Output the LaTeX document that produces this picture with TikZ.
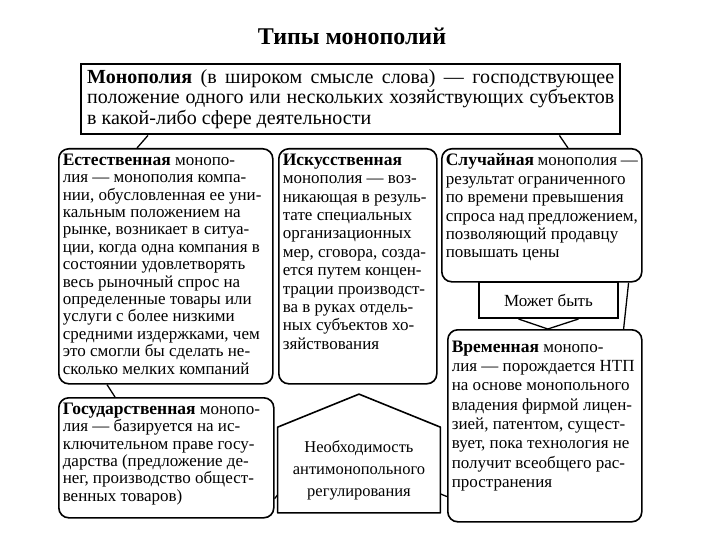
\documentclass[tikz,border=0pt]{standalone}
\usepackage{fontspec}
\setmainfont{Liberation Serif}
\usetikzlibrary{calc,positioning}
\tikzset{every picture/.style={line width=0.75pt}}
\tikzset{
  rbox/.style={draw, line width=1.6pt, rounded corners=10pt, anchor=north west,
    inner xsep=4pt, inner ysep=5pt, font=\fontsize{17}{17.4}\selectfont},
  sbox/.style={draw, line width=2pt, anchor=north west, inner sep=0pt},
  link/.style={line width=1.3pt},
}
\newcommand{\boxtext}[3]{\parbox[c][#2pt][t]{#1pt}{\tolerance=10000\hyphenpenalty=10000 #3}}
\newcommand{\term}[1]{{\bfseries\fontsize{17.5}{17.4}\selectfont #1}}

\begin{document}
\begin{tikzpicture}[x=1pt, y=-1pt]
    \useasboundingbox (0,0) rectangle (720,540);

    % заголовок
    \node[font=\fontsize{24}{28}\selectfont\bfseries] (title) at (352,36) {Типы монополий};

    % общее определение
    \node[sbox, line width=2.4pt, inner xsep=6pt, inner ysep=5pt, font=\fontsize{20}{20.5}\selectfont] (mono) at (80,63)
        {\boxtext{527}{60}{\textbf{Монополия} (в широком смысле слова) — господствующее\linebreak
        положение одного или нескольких хозяйствующих субъектов\linebreak
        в какой-либо сфере деятельности}};

    % три вида монополий
    \node[rbox] (nat) at (58,148)
        {\boxtext{206}{225}{\term{Естественная} монопо-\\
        лия — монополия компа-\\
        нии, обусловленная ее уни-\\
        кальным положением на\\
        рынке, возникает в ситуа-\\
        ции, когда одна компания в\\
        состоянии удовлетворять\\
        весь рыночный спрос на\\
        определенные товары или\\
        услуги с более низкими\\
        средними издержками, чем\\
        это смогли бы сделать не-\\
        сколько мелких компаний}};
    \node[rbox, font=\fontsize{17}{18.4}\selectfont] (art) at (278,148)
        {\boxtext{150}{225}{\term{Искусственная}\\
        монополия — воз-\\
        никающая в резуль-\\
        тате специальных\\
        организационных\\
        мер, сговора, созда-\\
        ется путем концен-\\
        трации производст-\\
        ва в руках отдель-\\
        ных субъектов хо-\\
        зяйствования}};
    \node[rbox, font=\fontsize{17}{18.4}\selectfont] (rand) at (441,148)
        {\boxtext{192}{123}{\term{Случайная} монополия —\\
        результат ограниченного\\
        по времени превышения\\
        спроса над предложением,\\
        позволяющий продавцу\\
        повышать цены}};

    % может быть
    \node[sbox, minimum width=139pt, minimum height=36pt, font=\fontsize{17}{18}\selectfont] (may) at (478,281) {Может быть};

    \node[rbox, font=\fontsize{17}{19.3}\selectfont] (temp) at (447,329)
        {\boxtext{186}{182}{\vspace*{6pt}\term{Временная} монопо-\\
        лия — порождается НТП\\
        на основе монопольного\\
        владения фирмой лицен-\\
        зией, патентом, сущест-\\
        вует, пока технология не\\
        получит всеобщего рас-\\
        пространения}};
    \node[rbox] (state) at (58,397)
        {\boxtext{207}{110}{\term{Государственная} монопо-\\
        лия — базируется на ис-\\
        ключительном праве госу-\\
        дарства (предложение де-\\
        нег, производство общест-\\
        венных товаров)}};

    % регулирование
    \node[minimum width=162pt, minimum height=85pt, align=center,
          font=\fontsize{16.5}{22}\selectfont] (need) at (359,470)
        {Необходимость\\ антимонопольного\\ регулирования};
    \draw[line width=1.6pt, line join=round] (need.south west) -- (need.north west)
        -- ($(need.north)+(0,-33)$) -- (need.north east) -- (need.south east) -- cycle;

    % связи
    \draw[link] ($(mono.south west)+(68,0)$) -- ($(nat.north west)+(79,0)$);
    \draw[link] ($(mono.south east)+(-62,0)$) -- ($(rand.north west)+(127,0)$);
    \draw[link] ($(nat.south west)+(49,0)$) -- ($(state.north west)+(57,0)$);
    \draw[link] ($(rand.south east)+(-14,0)$) -- ($(temp.north east)+(-19,0)$);
    \draw[link] ($(may.south)+(-30,0)$) -- ($(temp.north)+(3,0)$) -- ($(may.south)+(30,0)$);
    \draw[link] ($(state.south east)+(0,-20)$) -- ($(need.south west)+(0,-18)$);
    \draw[link] ($(temp.south west)+(0,-26)$) -- ($(need.south east)+(0,-19)$);
\end{tikzpicture}
\end{document}
